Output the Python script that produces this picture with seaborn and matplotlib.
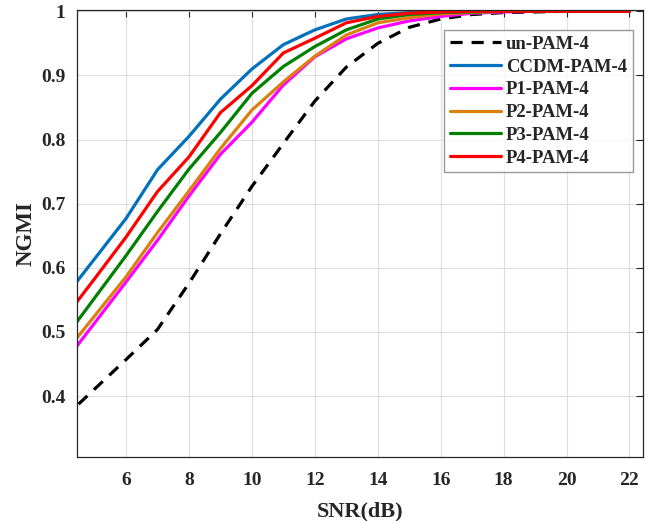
import pandas as pd
import seaborn as sns
import matplotlib.pyplot as plt

# SNR grid (dB) and NGMI values
snr = list(range(4, 23))
un_pam4 = [0.365, 0.411, 0.457, 0.504, 0.576, 0.653, 0.727, 0.794, 0.860, 0.913,
           0.950, 0.975, 0.988, 0.995, 0.998, 0.999, 1.0, 1.0, 1.0]
ccdm_pam4 = [0.551, 0.614, 0.677, 0.753, 0.805, 0.863, 0.910, 0.948, 0.971, 0.988,
             0.995, 0.998, 0.999, 1.0, 1.0, 1.0, 1.0, 1.0, 1.0]
p1_pam4 = [0.450, 0.514, 0.578, 0.643, 0.712, 0.777, 0.827, 0.885, 0.929, 0.957,
           0.974, 0.985, 0.992, 0.997, 0.999, 1.0, 1.0, 1.0, 1.0]
p2_pam4 = [0.464, 0.525, 0.586, 0.655, 0.720, 0.786, 0.846, 0.890, 0.930, 0.963,
           0.982, 0.990, 0.996, 0.998, 1.0, 1.0, 1.0, 1.0, 1.0]
p3_pam4 = [0.487, 0.553, 0.619, 0.688, 0.754, 0.811, 0.872, 0.914, 0.945, 0.971,
           0.988, 0.995, 0.998, 0.999, 1.0, 1.0, 1.0, 1.0, 1.0]
p4_pam4 = [0.519, 0.583, 0.648, 0.719, 0.773, 0.842, 0.884, 0.935, 0.958, 0.982,
           0.992, 0.997, 0.999, 1.0, 1.0, 1.0, 1.0, 1.0, 1.0]

labels = ["un-PAM-4", "CCDM-PAM-4", "P1-PAM-4", "P2-PAM-4", "P3-PAM-4", "P4-PAM-4"]
series = [un_pam4, ccdm_pam4, p1_pam4, p2_pam4, p3_pam4, p4_pam4]
colors = ["#000000", "#0072BD", "#FF00FF", "#DB800E", "#008000", "#FF0000"]

sns.set_theme(style="whitegrid")
plt.rcParams["font.family"] = ["Liberation Serif", "DejaVu Serif"]
plt.rcParams["font.weight"] = "bold"
plt.rcParams["xtick.direction"] = "in"
plt.rcParams["ytick.direction"] = "in"

fig = plt.figure(figsize=(6.57, 5.21), dpi=100)
ax = fig.add_axes([0.1167, 0.1228, 0.862, 0.858])

for lab, vals, col in zip(labels, series, colors):
    df = pd.DataFrame({"snr": snr, "ngmi": vals})
    sns.lineplot(data=df, x="snr", y="ngmi", ax=ax, color=col, lw=2.3, label=lab)
    if lab == "un-PAM-4":
        ax.lines[-1].set_dashes((3.8, 2.8))

ax.set_xlim(4.43, 22.43)
ax.set_ylim(0.305, 1.002)
ax.set_xticks(range(6, 23, 2))
ax.set_yticks([0.4, 0.5, 0.6, 0.7, 0.8, 0.9, 1.0])
ax.set_yticklabels(["0.4", "0.5", "0.6", "0.7", "0.8", "0.9", "1"])

ax.grid(True, color="#e0e0e0", lw=0.9)
for sp in ax.spines.values():
    sp.set_color("#262626")
    sp.set_linewidth(0.9)
ax.tick_params(axis="both", which="both", top=True, right=True, length=5,
               width=0.8, color="#262626", labelsize=14)
ax.tick_params(axis="x", pad=11)
ax.tick_params(axis="y", pad=8)
for t in ax.get_xticklabels() + ax.get_yticklabels():
    t.set_fontweight("bold")
    t.set_color("#262626")

ax.set_xlabel("SNR(dB)", fontsize=16, fontweight="bold", color="#262626", labelpad=9)
ax.set_ylabel("NGMI", fontsize=16.5, fontweight="bold", color="#262626", labelpad=3)

leg = ax.legend(loc="upper right", bbox_to_anchor=(0.982, 0.955), fontsize=13.5,
                frameon=True, fancybox=False, handlelength=2.75, labelspacing=0.3,
                borderpad=0.3, handletextpad=0.25, borderaxespad=0)
leg.get_frame().set_edgecolor("#808080")
leg.get_frame().set_linewidth(1.0)
for t in leg.get_texts():
    t.set_fontweight("bold")

plt.savefig("out.png", dpi=100)
